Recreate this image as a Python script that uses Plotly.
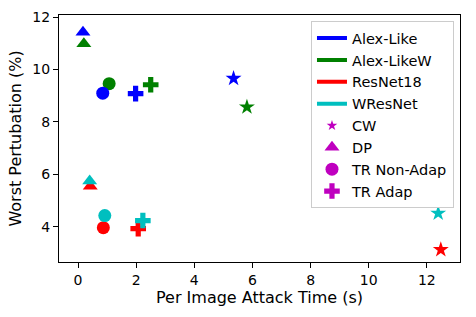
import plotly.graph_objects as go

models = ["Alex-Like", "Alex-LikeW", "ResNet18", "WResNet"]
model_colors = ["#0000ff", "#008000", "#ff0000", "#00bfbf"]
methods = ["CW", "DP", "TR Non-Adap", "TR Adap"]
method_symbols = ["star", "triangle-up", "circle", "cross"]

# time (s) and worst perturbation (%) per model, ordered as methods
time_vals = {
    "Alex-Like":  [5.35, 0.17, 0.85, 1.98],
    "Alex-LikeW": [5.81, 0.20, 1.07, 2.50],
    "ResNet18":   [12.48, 0.42, 0.87, 2.07],
    "WResNet":    [12.39, 0.40, 0.92, 2.23],
}
pert_vals = {
    "Alex-Like":  [9.66, 11.42, 9.10, 9.08],
    "Alex-LikeW": [8.57, 10.98, 9.46, 9.42],
    "ResNet18":   [3.13, 5.55, 3.97, 3.93],
    "WResNet":    [4.52, 5.75, 4.43, 4.24],
}

fig = go.Figure()
draw_order = ["Alex-LikeW", "Alex-Like", "ResNet18", "WResNet"]
for m in draw_order:
    c = model_colors[models.index(m)]
    for i, meth in enumerate(methods):
        fig.add_trace(go.Scatter(
            x=[time_vals[m][i]], y=[pert_vals[m][i]], mode="markers",
            marker=dict(symbol=method_symbols[i], color=c,
                        size=12 if meth == "CW" else 13, line=dict(width=0)),
            showlegend=False))

for m, c in zip(models, model_colors):
    fig.add_trace(go.Scatter(x=[None], y=[None], mode="lines", name=m,
                             line=dict(color=c, width=4)))
for meth, s in zip(methods, method_symbols):
    fig.add_trace(go.Scatter(x=[None], y=[None], mode="markers", name=meth,
                             marker=dict(symbol=s, color="#bf00bf",
                                         size=8 if meth == "CW" else 13)))

axis_common = dict(showline=True, linecolor="black", linewidth=1, mirror=True,
                   ticks="outside", ticklen=5, tickcolor="black", showgrid=False,
                   zeroline=False, tickfont=dict(size=14, color="black"),
                   automargin=False)
fig.update_xaxes(range=[-0.655, 13.14], tickvals=[0, 2, 4, 6, 8, 10, 12],
                 title=dict(text="Per Image Attack Time (s)", font=dict(size=16, color="black"), standoff=4),
                 **axis_common)
fig.update_yaxes(range=[2.66, 12.08], tickvals=[4, 6, 8, 10, 12],
                 title=dict(text="Worst Pertubation (%)", font=dict(size=16, color="black"), standoff=6),
                 **axis_common)

fig.update_layout(
    width=476, height=317,
    margin=dict(l=59, r=16, t=15, b=55),
    plot_bgcolor="white", paper_bgcolor="white",
    font=dict(family="DejaVu Sans", size=16, color="black"),
    legend=dict(x=0.985, y=0.975, xanchor="right", yanchor="top",
                bordercolor="#cccccc", borderwidth=1, bgcolor="white",
                font=dict(size=14.5), tracegroupgap=0),
)
fig.write_html("out.html", config={"displayModeBar": False},
               post_script="document.body.style.margin='0';")
